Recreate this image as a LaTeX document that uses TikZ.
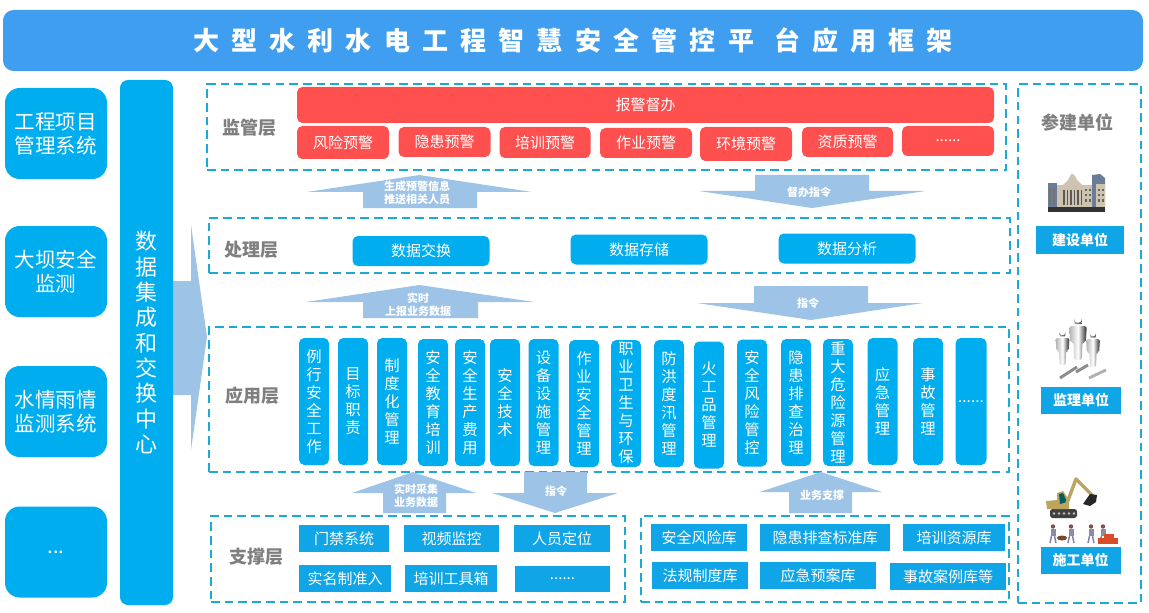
\documentclass[tikz,border=0pt]{standalone}
\usepackage{fontspec}
\setmainfont{Noto Sans CJK SC}
\usepackage{tikz}
\definecolor{titleblue}{RGB}{64,158,240}
\definecolor{cyanblue}{RGB}{0,173,239}
\definecolor{tagblue}{RGB}{16,165,230}
\definecolor{alarmred}{RGB}{255,80,80}
\definecolor{flowblue}{RGB}{157,195,230}
\definecolor{dashblue}{RGB}{27,169,213}
\definecolor{layergray}{RGB}{127,127,127}
\definecolor{digger}{RGB}{190,165,95}
\definecolor{wall}{RGB}{205,195,175}
\definecolor{glass}{RGB}{105,125,150}
\XeTeXlinebreaklocale "zh"
\XeTeXlinebreakskip=0pt plus 1pt
\tikzset{
  wh/.style 2 args={minimum width=#1*0.75pt, minimum height=#2*0.75pt},
  base/.style={rectangle, inner sep=0pt, text=white, align=center},
  sysbox/.style={base, fill=cyanblue, rounded corners=11pt, wh={102}{91}, font=\fontsize{15.4}{18}\selectfont},
  alarmbox/.style={base, fill=alarmred, rounded corners=4pt, font=\fontsize{11.25}{13}\selectfont},
  databox/.style={base, fill=cyanblue, rounded corners=4pt, wh={137}{30}, font=\fontsize{11.25}{13}\selectfont},
  appbox/.style={base, fill=cyanblue, rounded corners=4pt, wh={30}{127}, text width=12pt, font=\fontsize{11.5}{13.5}\selectfont},
  tagbox/.style={base, fill=tagblue, font=\fontsize{11.25}{13}\selectfont},
  unitbox/.style={base, fill=tagblue, font=\bfseries\fontsize{10.5}{13}\selectfont},
  panel/.style={rectangle, draw=dashblue, line width=1.3pt, dash pattern=on 6.5pt off 3.8pt},
  layername/.style={text=layergray, inner sep=0pt, font=\bfseries\fontsize{13.5}{16}\selectfont},
  flowarrow/.style={fill=flowblue},
  flowtext/.style={text=white, inner sep=0pt, align=center, font=\bfseries\fontsize{8.25}{9.8}\selectfont},
}
\begin{document}
\begin{tikzpicture}[x=0.75pt,y=-0.75pt]
\useasboundingbox (0,0) rectangle (1149,613);
\node[base, fill=titleblue, rounded corners=8pt, wh={1140}{61}, font=\bfseries\fontsize{19.5}{22}\selectfont] (title) at (573,40.5)
  {\addfontfeatures{LetterSpace=47}大型水利水电工程智慧安全管控平\kern15pt 台应用框架};

\node[sysbox] (project) at (56,133.5) {工程项目\\管理系统};
\node[sysbox] (dam) at (56,271.5) {大坝安全\\监测};
\node[sysbox] (rain) at (56,411.5) {水情雨情\\监测系统};
\node[sysbox] (others) at (56,552) {...};

\fill[flowarrow] (173,281) -- (191,281) -- (191,225) -- (207,337) -- (191,450) -- (191,395) -- (173,395) -- cycle;
\node[base, fill=cyanblue, rounded corners=6pt, wh={53}{525}, text width=17pt, font=\fontsize{16.5}{19}\selectfont] (center) at (146.5,342.5)
  {数据集成和交换中心};

\node[panel, wh={799}{86}] (supervise) at (606.5,127) {};
\node[panel, wh={801}{55}] (process) at (609.5,245.5) {};
\node[panel, wh={800}{145}] (apply) at (609,399.5) {};
\node[panel, wh={414}{86}] (supportl) at (418,559) {};
\node[panel, wh={368}{86}] (supportr) at (825,559) {};
\node[panel, wh={123}{519}] (units) at (1079.5,343.5) {};

\node[layername] (supervisename) at (249,128) {监管层};
\node[layername] (processname) at (251,250) {处理层};
\node[layername] (applyname) at (252,396) {应用层};
\node[layername] (supportname) at (256,557) {支撑层};
\node[layername] (unitsname) at (1077,123) {参建单位};

\node[alarmbox, wh={697}{36}] (alarmbar) at (645.5,105) {报警督办};
\node[alarmbox, wh={92}{33}] (riskalarm) at (343,142.5) {风险预警};
\node[alarmbox, wh={92}{30}] (hazardalarm) at (444.5,142) {隐患预警};
\node[alarmbox, wh={91}{31}] (trainalarm) at (545,142.5) {培训预警};
\node[alarmbox, wh={92}{30}] (workalarm) at (646,143) {作业预警};
\node[alarmbox, wh={92}{34}] (envalarm) at (746,144) {环境预警};
\node[alarmbox, wh={91}{30}] (qualalarm) at (847.5,142) {资质预警};
\node[alarmbox, wh={92}{30}] (morealarm) at (948,141) {......};

\node[databox] (exchange) at (421,251) {数据交换};
\node[databox] (storage) at (639,249.5) {数据存储};
\node[databox] (analysis) at (847,248.5) {数据分析};

\foreach \ax/\ay/\atext [count=\ai] in {
  314/401.5/例行安全工作, 353/401.5/目标职责, 392/401.5/制度化管理,
  433/402.5/安全教育培训, 470/402.5/安全生产费用, 505/402.5/安全技术,
  543.5/402.5/设备设施管理, 584/403.5/作业安全管理, 626/403.5/职业卫生与环保,
  669/403.5/防洪度汛管理, 709/405/火工品管理, 752/403/安全风险管控,
  796/402.5/隐患排查治理, 838/402.5/重大危险源管理, 882.5/401.5/应急管理,
  928/401.5/事故管理}
  \node[appbox] (app\ai) at (\ax,\ay) {\atext};
\node[appbox, text width=, wh={31}{127}] (appmore) at (971,401.5) {......};

\node[tagbox, wh={90}{27}] (door) at (344,538.5) {门禁系统};
\node[tagbox, wh={95}{27}] (video) at (451.5,538.5) {视频监控};
\node[tagbox, wh={96}{27}] (locate) at (562,538.5) {人员定位};
\node[tagbox, wh={92}{27}] (realname) at (345,578.5) {实名制准入};
\node[tagbox, wh={92}{27}] (tools) at (451,578.5) {培训工具箱};
\node[tagbox, wh={95}{26}] (moretag) at (562.5,579) {......};

\node[tagbox, wh={96}{27}] (risklib) at (699,537.5) {安全风险库};
\node[tagbox, wh={130}{27}] (hazardlib) at (825,537.5) {隐患排查标准库};
\node[tagbox, wh={102}{27}] (trainlib) at (954,537.5) {培训资源库};
\node[tagbox, wh={96}{27}] (lawlib) at (700,575.5) {法规制度库};
\node[tagbox, wh={116}{27}] (planlib) at (818,575.5) {应急预案库};
\node[tagbox, wh={116}{27}] (caselib) at (948,576.5) {事故案例库等};

\fill[flowarrow] (419.5,175) -- (532,192) -- (477,192) -- (477,208) -- (363,208) -- (363,192) -- (306.5,192) -- cycle;
\node[flowtext] (pushtext) at (417,193) {生成预警信息\\推送相关人员};
\fill[flowarrow] (755,175) -- (869,175) -- (869,191) -- (925.5,191) -- (812,208) -- (699,191) -- (755,191) -- cycle;
\node[flowtext] (supervisetext) at (809,192) {督办指令};
\fill[flowarrow] (419.5,285) -- (534,302) -- (478,302) -- (478,318) -- (363,318) -- (363,302) -- (306,302) -- cycle;
\node[flowtext] (reporttext) at (418,304.5) {实时\\上报业务数据};
\fill[flowarrow] (754,286) -- (868,286) -- (868,303) -- (923,303) -- (811,320) -- (697,303) -- (754,303) -- cycle;
\node[flowtext] (ordertext) at (808,303) {指令};
\fill[flowarrow] (413,472) -- (476,493) -- (446,493) -- (446,513) -- (383,513) -- (383,493) -- (352,493) -- cycle;
\node[flowtext] (collecttext) at (416,495.5) {实时采集\\业务数据};
\fill[flowarrow] (524,472) -- (587,472) -- (587,493) -- (618,493) -- (555,513) -- (492,493) -- (524,493) -- cycle;
\node[flowtext] (ordertexttwo) at (556,491) {指令};
\fill[flowarrow] (821,472) -- (882,492) -- (852,492) -- (852,513) -- (789,513) -- (789,492) -- (759.5,492) -- cycle;
\node[flowtext] (backtext) at (822,495) {业务支撑};

\node[unitbox, wh={88}{28}] (owner) at (1080,240) {建设单位};
\node[unitbox, wh={80}{27}] (monitor) at (1081,400.5) {监理单位};
\node[unitbox, wh={80}{27}] (builder) at (1080.5,560.5) {施工单位};

% building
\fill[wall] (1057,185) rectangle (1092,207);
\fill[wall] (1063,185) -- (1068,180) -- (1070,176) -- (1072,173.5) -- (1075,176) -- (1077,180) -- (1082,185) -- cycle;
\fill[glass] (1048,183) rectangle (1057,207);
\fill[glass] (1092,175) -- (1100,174) -- (1105,178) -- (1105,207) -- (1092,207) -- cycle;
\fill[wall] (1096,184) rectangle (1105,207);
\foreach \bx in {1064,1067.5,1071,1074.5,1078,1081.5}
  \draw[black!65, line width=1.4pt] (\bx,190) -- (\bx,205);
\foreach \bx in {1086,1090,1099,1103}
  \foreach \by in {189,194,199}
    \fill[black!60] (\bx-1,\by) rectangle (\bx+1,\by+2.5);
\foreach \bx in {1050,1054}
  \draw[black!55, line width=1pt] (\bx,188) -- (\bx,205);
\fill[black!80] (1048,207) rectangle (1105,212);

% people
\foreach \mx/\my/\mk/\mw in {1062.5/329/0.82/0.87,1093/330/0.84/0.87,1078/315/1.02/1.1} {
  \shade[left color=black!35, right color=black!70] (\mx-3.5*\mw,\my+4*\mk) arc (180:0:3.5*\mw) -- (\mx+3*\mw,\my+9*\mk) -- (\mx-3*\mw,\my+9*\mk) -- cycle;
  \shade[left color=black!30, right color=black!85, middle color=white, rounded corners=1.5pt]
    (\mx-8*\mw,\my+11*\mk) -- (\mx+8*\mw,\my+11*\mk) -- (\mx+7*\mw,\my+27*\mk) -- (\mx+4*\mw,\my+27*\mk) -- (\mx+3.5*\mw,\my+44*\mk) -- (\mx-3.5*\mw,\my+44*\mk) -- (\mx-4*\mw,\my+27*\mk) -- (\mx-7*\mw,\my+27*\mk) -- cycle;
}
\draw[black!45, line width=2.2pt] (1060,378) -- (1077,367);
\draw[black!45, line width=2.2pt] (1076,372) -- (1088,365);
\draw[black!30, line width=2.2pt] (1089,378) -- (1106,370);

% excavator
\fill[black!75, rounded corners=2pt] (1050,509) rectangle (1077,518);
\foreach \tx in {1054,1059,1064,1069,1074}
  \fill[black!25] (\tx,513.5) circle (1.3);
\fill[digger] (1046,501) -- (1058,500) -- (1058,509) -- (1047,509) -- cycle;
\fill[digger] (1057,493) -- (1063,491) -- (1069,500) -- (1069,509) -- (1057,509) -- cycle;
\fill[teal!75!black] (1059,494) -- (1063,493) -- (1067,502) -- (1060,504) -- cycle;
\draw[digger, line width=2.6pt, line join=round] (1067,503) -- (1076,479) -- (1093,496);
\fill[black!85] (1090,494) -- (1097,495) -- (1096,502) -- (1090,506) -- (1083,504) -- cycle;

% workers
\foreach \wx in {1053,1071,1091,1103} {
  \fill[red!30!black!70] (\wx,526.5) circle (2.2);
  \fill[blue!20!black!45] (\wx-2.5,529) rectangle (\wx+2.5,536);
  \draw[blue!30!black!50, line width=1.1pt] (\wx-1.5,536) -- (\wx-3,543);
  \draw[blue!30!black!50, line width=1.1pt] (\wx+1.5,536) -- (\wx+3,543);
}
\fill[brown!60!black] (1062,538) ellipse (5 and 2.5);
\fill[red!40!brown] (1098,538) rectangle (1118,543.5);
\fill[red!40!brown] (1104,534) rectangle (1114,538);
\end{tikzpicture}
\end{document}
